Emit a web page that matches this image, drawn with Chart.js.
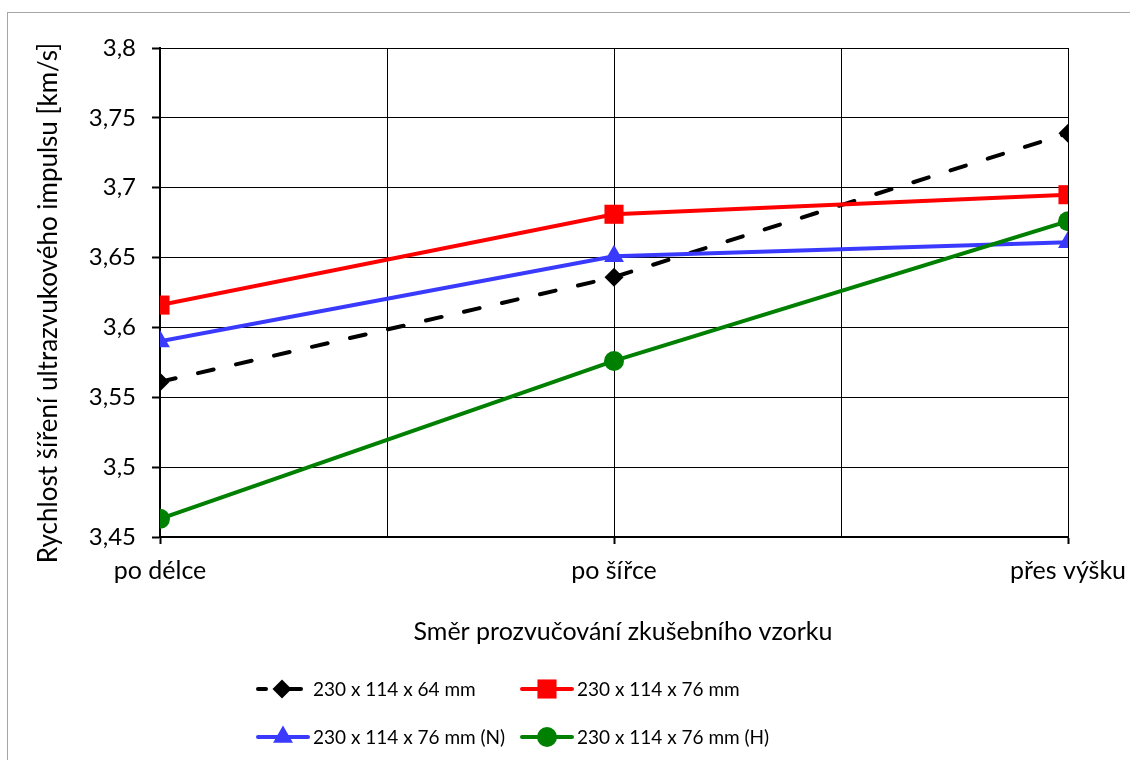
<!DOCTYPE html>
<html lang="cs">
<head>
<meta charset="UTF-8">
<title>Rychlost šíření ultrazvukového impulsu</title>
<script src="https://cdn.jsdelivr.net/npm/chart.js"></script>
<style>
    html, body { margin: 0; padding: 0; background: #fff; overflow: hidden; }
    .wrap { position: relative; width: 1130px; height: 760px; }
    .frame { position: absolute; left: 7px; top: 12px; width: 1200px; height: 800px; border: 1.5px solid #a6a6a6; }
    canvas { position: absolute; left: 0; top: 0; }
</style>
</head>
<body>
<div class="wrap">
    <div class="frame"></div>
    <canvas id="chart" width="1130" height="760"></canvas>
</div>
<script>
    // data
    const categories = ['po délce', 'po šířce', 'přes výšku'];
    const seriesNames = ['230 x 114 x 64 mm', '230 x 114 x 76 mm', '230 x 114 x 76 mm (N)', '230 x 114 x 76 mm (H)'];
    const s64 = [3.561, 3.636, 3.739];
    const s76 = [3.616, 3.681, 3.695];
    const s76N = [3.590, 3.651, 3.661];
    const s76H = [3.463, 3.576, 3.676];
    const yTicks = [3.45, 3.5, 3.55, 3.6, 3.65, 3.7, 3.75, 3.8];

    const FONT = 'Lato, "Open Sans", sans-serif';
    const toPts = arr => arr.map((v, i) => ({ x: i, y: v }));
    const fmt = v => String(parseFloat(v.toFixed(2))).replace('.', ',');

    const styles = [
        { color: '#000000', point: 'rectRot', radius: 9.5, dash: [16, 23] },
        { color: '#ff0000', point: 'rect', radius: 13.5, dash: [] },
        { color: '#3a3aff', point: 'triangle', radius: 11.5, dash: [] },
        { color: '#008000', point: 'circle', radius: 10, dash: [] }
    ];
    const values = [s64, s76, s76N, s76H];

    const datasets = values.map((vals, i) => ({
        label: seriesNames[i],
        data: toPts(vals),
        borderColor: styles[i].color,
        backgroundColor: styles[i].color,
        borderWidth: 4,
        borderDash: styles[i].dash,
        borderCapStyle: i === 0 ? 'round' : 'butt',
        pointStyle: styles[i].point,
        pointRadius: styles[i].radius,
        pointBorderWidth: 0,
        pointBackgroundColor: styles[i].color,
        tension: 0,
        order: 3 - i
    }));

    function marker(ctx, style, x, y, r, color) {
        ctx.save();
        ctx.fillStyle = color;
        ctx.beginPath();
        if (style === 'circle') {
            ctx.arc(x, y, r, 0, Math.PI * 2);
        } else if (style === 'rect') {
            const s = r * Math.SQRT1_2;
            ctx.rect(x - s, y - s, 2 * s, 2 * s);
        } else if (style === 'rectRot') {
            ctx.moveTo(x, y - r); ctx.lineTo(x + r, y); ctx.lineTo(x, y + r); ctx.lineTo(x - r, y);
        } else if (style === 'triangle') {
            ctx.moveTo(x, y - r);
            ctx.lineTo(x + r * 0.866, y + r * 0.5);
            ctx.lineTo(x - r * 0.866, y + r * 0.5);
        }
        ctx.closePath();
        ctx.fill();
        ctx.restore();
    }

    // axis titles and two-column legend
    const extras = {
        id: 'extras',
        afterDraw(chart) {
            const ctx = chart.ctx;
            ctx.save();
            ctx.fillStyle = '#000';
            ctx.font = '25px ' + FONT;
            ctx.textAlign = 'center';
            ctx.textBaseline = 'alphabetic';
            ctx.fillText('Směr prozvučování zkušebního vzorku', 623, 640);

            ctx.save();
            ctx.font = '26px ' + FONT;
            ctx.translate(57, 303);
            ctx.rotate(-Math.PI / 2);
            ctx.fillText('Rychlost šíření ultrazvukového impulsu [km/s]', 0, 0);
            ctx.restore();

            ctx.font = '19px ' + FONT;
            ctx.textBaseline = 'middle';
            const cols = [256, 520];
            const rows = [689, 737];
            styles.forEach((st, i) => {
                const x0 = cols[i % 2];
                const y = rows[Math.floor(i / 2)];
                ctx.save();
                ctx.strokeStyle = st.color;
                ctx.lineWidth = 4;
                ctx.lineCap = 'round';
                if (i === 0) {
                    ctx.beginPath(); ctx.moveTo(x0 + 2, y); ctx.lineTo(x0 + 10, y); ctx.stroke();
                    ctx.beginPath(); ctx.moveTo(x0 + 32, y); ctx.lineTo(x0 + 45, y); ctx.stroke();
                } else {
                    ctx.beginPath(); ctx.moveTo(x0 + 2, y); ctx.lineTo(x0 + 52, y); ctx.stroke();
                }
                ctx.restore();
                marker(ctx, st.point, x0 + (i === 0 ? 26 : 27), y, st.radius, st.color);
                ctx.textAlign = 'left';
                ctx.fillStyle = '#000';
                ctx.fillText(seriesNames[i], x0 + 57, y + 1);
            });
            ctx.restore();
        }
    };

    new Chart(document.getElementById('chart'), {
        type: 'line',
        data: { datasets },
        plugins: [extras],
        options: {
            responsive: false,
            animation: false,
            layout: { padding: { top: 48, right: 62, left: 0, bottom: 0 } },
            plugins: { legend: { display: false }, tooltip: { enabled: false } },
            scales: {
                x: {
                    type: 'linear',
                    min: 0,
                    max: categories.length - 1,
                    afterFit: s => { s.height = 223; s.paddingLeft = 0; s.paddingRight = 0; },
                    afterBuildTicks: s => {
                        const t = [];
                        for (let v = 0; v <= categories.length - 1; v += 0.5) t.push({ value: v });
                        s.ticks = t;
                    },
                    ticks: {
                        font: { family: FONT, size: 25 },
                        color: '#000',
                        padding: 12,
                        maxRotation: 0,
                        autoSkip: false,
                        callback: v => Number.isInteger(v) ? categories[v] : ''
                    },
                    grid: {
                        color: '#000',
                        lineWidth: 1,
                        tickLength: 7,
                        tickColor: c => (c.tick && Number.isInteger(c.tick.value)) ? '#000' : 'rgba(0,0,0,0)',
                        tickWidth: 2
                    },
                    border: { display: true, color: '#000', width: 2 }
                },
                y: {
                    min: 3.45,
                    max: 3.8,
                    afterFit: s => { s.width = 160; s.paddingTop = 0; s.paddingBottom = 0; },
                    afterBuildTicks: s => { s.ticks = yTicks.map(v => ({ value: v })); },
                    ticks: {
                        font: { family: FONT, size: 24 },
                        color: '#000',
                        padding: 16,
                        callback: v => fmt(v)
                    },
                    grid: { color: '#000', lineWidth: 1, tickLength: 8, tickWidth: 2 },
                    border: { display: true, color: '#000', width: 2 }
                }
            }
        }
    });
</script>
</body>
</html>
